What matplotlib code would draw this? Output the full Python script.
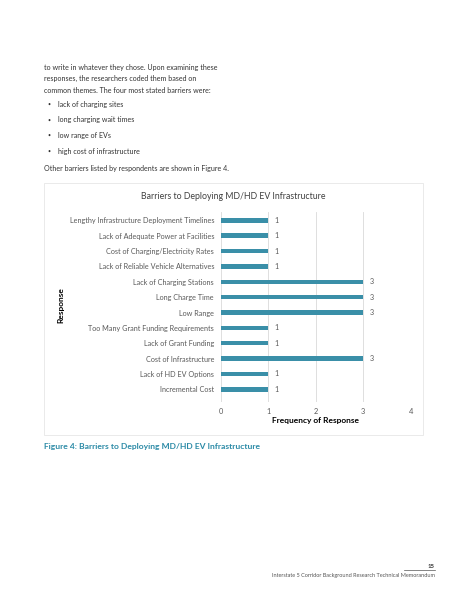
import matplotlib.pyplot as plt
from matplotlib.patches import Rectangle
from matplotlib.lines import Line2D

# данные графика (сверху вниз, как на картинке)
categories = [
    "Lengthy Infrastructure Deployment Timelines",
    "Lack of Adequate Power at Facilities",
    "Cost of Charging/Electricity Rates",
    "Lack of Reliable Vehicle Alternatives",
    "Lack of Charging Stations",
    "Long Charge Time",
    "Low Range",
    "Too Many Grant Funding Requirements",
    "Lack of Grant Funding",
    "Cost of Infrastructure",
    "Lack of HD EV Options",
    "Incremental Cost",
]
counts = [1, 1, 1, 1, 3, 3, 3, 1, 1, 3, 1, 1]
x_ticks = [0, 1, 2, 3, 4]

body_lines = [
    "to write in whatever they chose. Upon examining these",
    "responses, the researchers coded them based on",
    "common themes. The four most stated barriers were:",
]
bullets = [
    "lack of charging sites",
    "long charging wait times",
    "low range of EVs",
    "high cost of infrastructure",
]
after_text = "Other barriers listed by respondents are shown in Figure 4."
caption = "Figure 4: Barriers to Deploying MD/HD EV Infrastructure"
footer = "Interstate 5 Corridor Background Research Technical Memorandum"
page_no = "15"

W, H = 463, 599
bar_color = "#3a8fa8"
text_grey = "#595959"

plt.rcParams['font.family'] = ['Lato', 'DejaVu Sans']
fig = plt.figure(figsize=(W / 100, H / 100), dpi=100)
fig.patch.set_facecolor("white")


def fx(px):
    return px / W


def fy(py):
    return 1 - py / H


# текст страницы
for i, line in enumerate(body_lines):
    fig.text(fx(44), fy(67.5 + i * 11.3), line, fontsize=5.1, color="#333333", va="center")
for i, b in enumerate(bullets):
    yy = fy(104.3 + i * 15.6)
    fig.text(fx(47.5), yy, "\u2022", fontsize=3.8, color="#333333", va="center")
    fig.text(fx(58), yy, b, fontsize=5.1, color="#333333", va="center")
fig.text(fx(44), fy(168.3), after_text, fontsize=5.1, color="#333333", va="center")

# рамка графика
fig.add_artist(Rectangle((fx(44), fy(435)), fx(423 - 44), (435 - 183) / H,
                         transform=fig.transFigure, fill=False,
                         edgecolor="#e6e6e6", linewidth=0.6))

ax = fig.add_axes([fx(221), fy(401.5), fx(410.7 - 221), (401.5 - 212) / H])
n = len(categories)
ypos = list(range(n - 1, -1, -1))
ax.barh(ypos, counts, height=0.3, color=bar_color, zorder=3)
for y, v in zip(ypos, counts):
    ax.text(v + 0.13, y, str(v), fontsize=5.2, color=text_grey, va="center", ha="left")

ax.set_xlim(0, 4)
ax.set_ylim(-0.8, n - 0.45)
ax.set_xticks(x_ticks)
ax.set_xticklabels([str(t) for t in x_ticks], fontsize=5.3, color=text_grey)
ax.set_yticks(ypos)
ax.set_yticklabels(categories, fontsize=5.25, color=text_grey)
ax.tick_params(length=0, pad=5)
ax.xaxis.grid(True, color="#d9d9d9", linewidth=0.6, zorder=0)
for s in ax.spines.values():
    s.set_visible(False)
ax.set_facecolor("none")

fig.text(fx(233), fy(196.5), "Barriers to Deploying MD/HD EV Infrastructure",
         fontsize=6.3, color="#404040", ha="center", va="center")
fig.text(fx(315), fy(420), "Frequency of Response", fontsize=6.0,
         fontweight="bold", color="#000000", ha="center", va="center")
fig.text(fx(61), fy(305), "Response", fontsize=6.0, fontweight="bold",
         color="#000000", ha="center", va="center", rotation=90)

# подпись рисунка
fig.text(fx(44), fy(447), caption, fontsize=6.1, fontweight="bold",
         color="#2b8aa6", va="center")

# нижний колонтитул
fig.text(fx(435), fy(566), page_no, fontsize=4.3, fontweight="bold",
         color="#333333", ha="right", va="center")
fig.add_artist(Line2D([fx(404), fx(435)], [fy(569.5), fy(569.5)],
                      transform=fig.transFigure, color="#555555", linewidth=0.5))
fig.text(fx(435), fy(576), footer, fontsize=4.0, color="#555555",
         ha="right", va="center")

fig.savefig("out.png", dpi=100)
